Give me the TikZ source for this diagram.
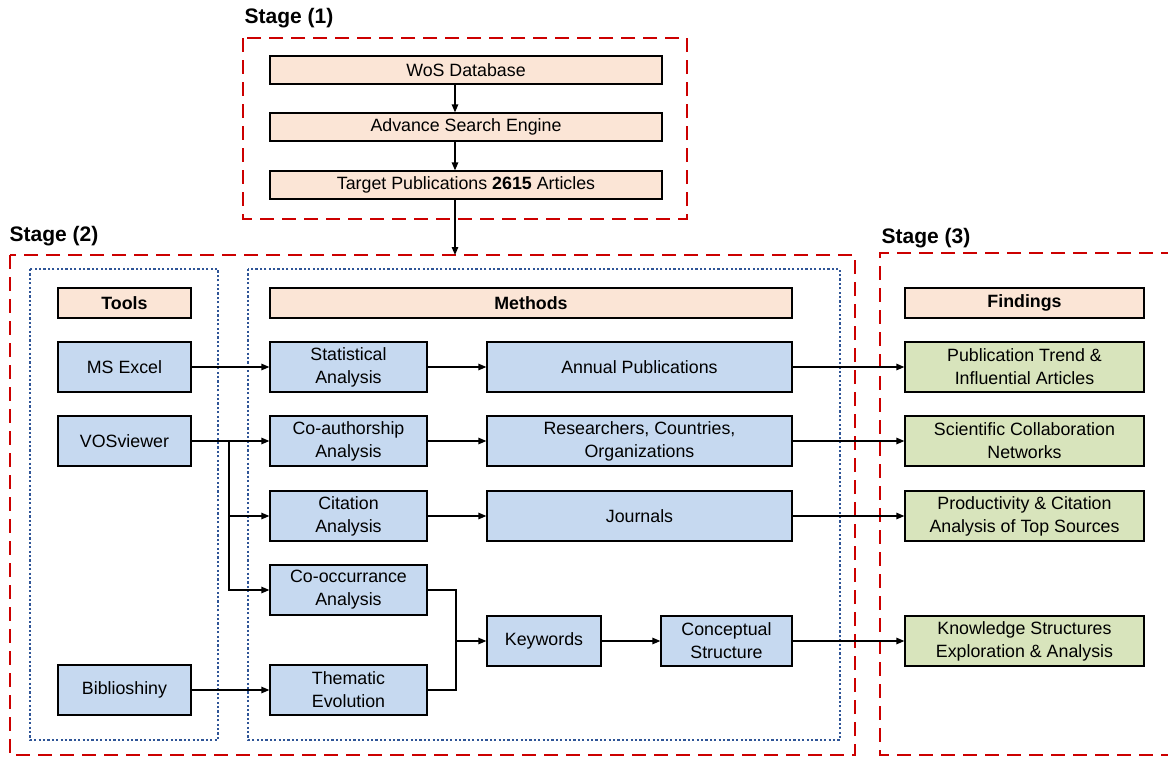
\documentclass[tikz,border=0pt]{standalone}
\usepackage{fontspec}
\setmainfont{Liberation Sans}
\usetikzlibrary{arrows.meta}

\definecolor{peach}{HTML}{FBE5D6}
\definecolor{paleblue}{HTML}{C6D9F0}
\definecolor{palegreen}{HTML}{D8E4BC}
\definecolor{stagered}{HTML}{CC0000}
\definecolor{dotblue}{HTML}{2F5597}

\begin{document}
\begin{tikzpicture}
  [x=0.5pt, y=-0.5pt,
   every node/.style={draw, line width=0.6pt, inner sep=0pt, align=center,
     font=\fontsize{8.9}{11.5}\selectfont},
   head/.style={fill=peach, minimum height=15pt, font=\bfseries\fontsize{8.9}{11.5}\selectfont},
   srcbox/.style={fill=peach, minimum width=196pt, minimum height=14pt},
   toolbox/.style={fill=paleblue, minimum width=66.5pt, minimum height=25pt},
   methbox/.style={fill=paleblue, minimum height=25pt},
   findbox/.style={fill=palegreen, minimum width=119.5pt, minimum height=25pt},
   stagelabel/.style={draw=none, anchor=west, font=\bfseries\fontsize{10.5}{12}\selectfont},
   stagebox/.style={draw=stagered, line width=1.25pt, dash pattern=on 7pt off 4pt},
   groupbox/.style={draw=dotblue, line width=1.1pt, dash pattern=on 1.1pt off 1.1pt},
   arrow/.style={-{Triangle[length=4pt,width=3.2pt]}, line width=0.75pt},
   joint/.style={line width=1.1pt}]
  \useasboundingbox (0,0) rectangle (1168,757);

  % stage frames
  \draw [stagebox] (243,38) rectangle (687,219);
  \draw [stagebox] (10,255) rectangle (855,755);
  \draw [stagebox] (1175,253) -| (880,755) -- (1175,755);
  \draw [groupbox] (30,269) rectangle (218,740);
  \draw [groupbox] (248,269) rectangle (840,740);

  \node [stagelabel] (s1) at (244,18) {Stage (1)};
  \node [stagelabel] (s2) at (9,236) {Stage (2)};
  \node [stagelabel] (s3) at (881,238) {Stage (3)};
  \coordinate (s2top) at (455,255);

  % stage 1
  \node [srcbox] (wos)    at (466,70)  {WoS Database};
  \node [srcbox] (search) at (466,127) {Advance Search Engine};
  \node [srcbox] (target) at (466,185) {Target Publications \textbf{2615} Articles};

  % tools
  \node [head, minimum width=66.5pt] (tools) at (124.5,303) {Tools};
  \node [toolbox] (excel)  at (124.5,367) {MS Excel};
  \node [toolbox] (vos)    at (124.5,441) {VOSviewer};
  \node [toolbox] (biblio) at (124.5,690) {Biblioshiny};

  % methods
  \node [head, minimum width=261pt] (methods) at (531,303) {Methods};
  \node [methbox, minimum width=78.5pt] (stat)     at (348.5,367) {Statistical\\Analysis};
  \node [methbox, minimum width=78.5pt] (coauth)   at (348.5,441) {Co-authorship\\Analysis};
  \node [methbox, minimum width=78.5pt] (cite)     at (348.5,516) {Citation\\Analysis};
  \node [methbox, minimum width=78.5pt] (cooc)     at (348.5,590) {Co-occurrance\\Analysis};
  \node [methbox, minimum width=78.5pt] (thematic) at (348.5,690) {Thematic\\Evolution};
  \node [methbox, minimum width=152.5pt] (annual)   at (639.5,367) {Annual Publications};
  \node [methbox, minimum width=152.5pt] (research) at (639.5,441) {Researchers, Countries,\\Organizations};
  \node [methbox, minimum width=152.5pt] (journals) at (639.5,516) {Journals};
  \node [methbox, minimum width=57pt]    (keywords) at (544,641)   {Keywords};
  \node [methbox, minimum width=65.5pt]  (concept)  at (726.5,641) {Conceptual\\Structure};

  % findings
  \node [head, minimum width=119.5pt] (findings) at (1024.5,303) {Findings};
  \node [findbox] (trend)     at (1024.5,367) {Publication Trend \&\\Influential Articles};
  \node [findbox] (collab)    at (1024.5,441) {Scientific Collaboration\\Networks};
  \node [findbox] (product)   at (1024.5,516) {Productivity \& Citation\\Analysis of Top Sources};
  \node [findbox] (knowledge) at (1024.5,641) {Knowledge Structures\\Exploration \& Analysis};

  \coordinate (vsplit) at (229,441);
  \coordinate (ksplit) at (456,641);

  % stage 1 flow
  \draw [arrow] (wos.south -| s2top) -- (search.north -| s2top);
  \draw [arrow] (search.south -| s2top) -- (target.north -| s2top);
  \draw [arrow] (target.south -| s2top) -- (s2top);

  % tools to methods
  \draw [arrow] (excel) -- (stat);
  \draw [arrow] (biblio) -- (thematic);
  \draw [joint] (vos.east) -- (vsplit);
  \draw [arrow] (vsplit) -- (coauth.west);
  \draw [arrow] (vsplit) |- (cite.west);
  \draw [arrow] (vsplit) |- (cooc.west);

  % methods to results
  \draw [arrow] (stat) -- (annual);
  \draw [arrow] (coauth) -- (research);
  \draw [arrow] (cite) -- (journals);
  \draw [joint] (cooc.east) -| (ksplit);
  \draw [joint] (thematic.east) -| (ksplit);
  \draw [arrow] (ksplit) -- (keywords.west);
  \draw [arrow] (keywords) -- (concept);

  % results to findings
  \draw [arrow] (annual) -- (trend);
  \draw [arrow] (research) -- (collab);
  \draw [arrow] (journals) -- (product);
  \draw [arrow] (concept) -- (knowledge);
\end{tikzpicture}
\end{document}
